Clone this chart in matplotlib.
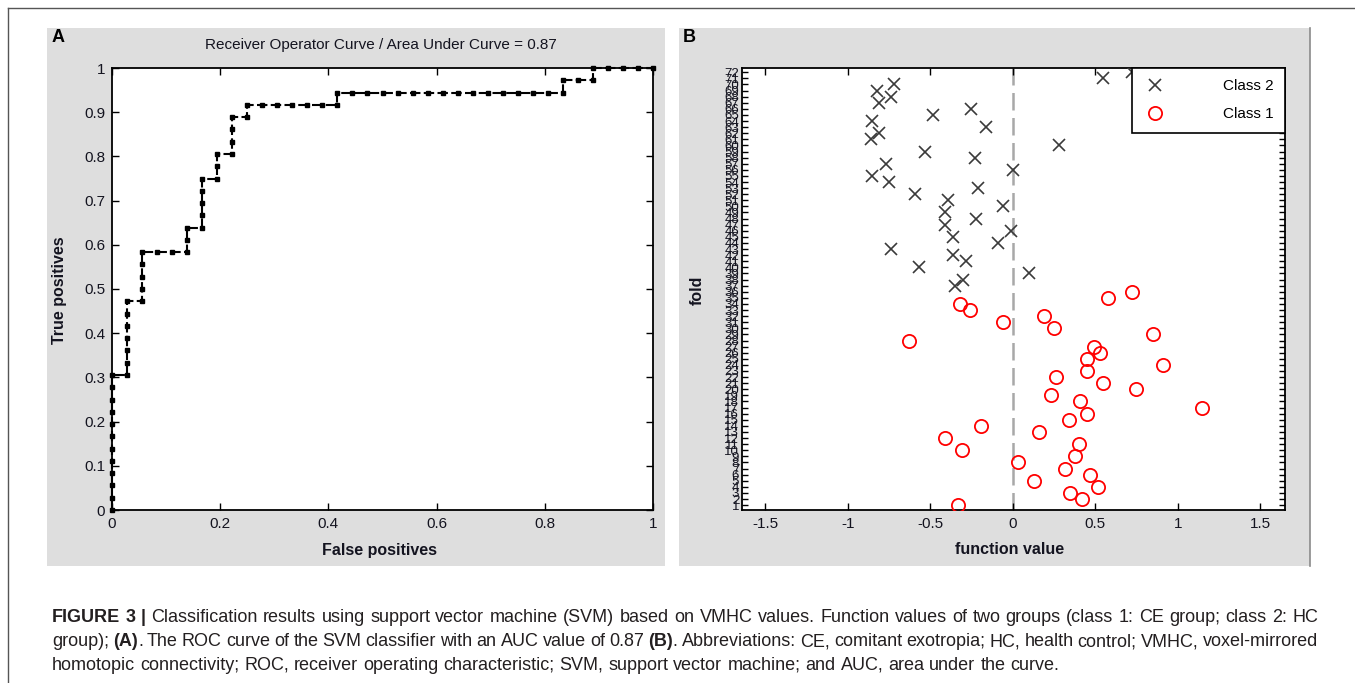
import numpy as np
import matplotlib
matplotlib.use("Agg")
import matplotlib.pyplot as plt
from matplotlib.transforms import IdentityTransform
from matplotlib.patches import Rectangle
from matplotlib.lines import Line2D

plt.rcParams['font.family'] = ['Liberation Sans', 'DejaVu Sans']

# ---------------- data ----------------
n_pos = 36
n_neg = 36
# ROC curve points (counts of false / true positives)
roc_fp = [0, 0, 0, 0, 0, 0, 0, 0, 0, 0, 0, 0,
          1, 1, 1, 1, 1, 1, 1,
          2, 2, 2, 2, 2,
          3, 4,
          5, 5, 5,
          6, 6, 6, 6, 6,
          7, 7, 7,
          8, 8, 8, 8,
          9, 9,
          10, 11, 12, 13, 14, 15, 15,
          16, 17, 18, 19, 20, 21, 22, 23, 24, 25, 26, 27, 28, 29, 30, 30,
          31, 32, 32,
          33, 34, 35, 36]
roc_tp = [0, 1, 2, 3, 4, 5, 6, 7, 8, 9, 10, 11,
          11, 12, 13, 14, 15, 16, 17,
          17, 18, 19, 20, 21,
          21, 21,
          21, 22, 23,
          23, 24, 25, 26, 27,
          27, 28, 29,
          29, 30, 31, 32,
          32, 33,
          33, 33, 33, 33, 33, 33, 34,
          34, 34, 34, 34, 34, 34, 34, 34, 34, 34, 34, 34, 34, 34, 34, 35,
          35, 35, 36,
          36, 36, 36, 36]
auc_value = 0.87

class1_fold = list(range(1, 37))
class1_value = [-0.33, 0.42, 0.35, 0.52, 0.13, 0.47, 0.32, 0.03, 0.38, -0.31,
                0.40, -0.41, 0.16, -0.19, 0.34, 0.45, 1.15, 0.41, 0.23, 0.75,
                0.55, 0.26, 0.45, 0.91, 0.45, 0.53, 0.49, -0.63, 0.85, 0.25,
                -0.06, 0.19, -0.26, -0.32, 0.58, 0.72]
class2_fold = list(range(37, 73))
class2_value = [-0.35, -0.30, 0.10, -0.57, -0.28, -0.36, -0.74, -0.09, -0.36, -0.01,
                -0.41, -0.22, -0.41, -0.06, -0.39, -0.59, -0.21, -0.75, -0.85, 0.00,
                -0.77, -0.23, -0.53, 0.28, -0.86, -0.81, -0.16, -0.85, -0.48, -0.25,
                -0.81, -0.74, -0.82, -0.72, 0.55, 0.72]

roc_xticks = [0, 0.2, 0.4, 0.6, 0.8, 1]
roc_xticklabels = ['0', '0.2', '0.4', '0.6', '0.8', '1']
roc_yticks = [0, 0.1, 0.2, 0.3, 0.4, 0.5, 0.6, 0.7, 0.8, 0.9, 1]
roc_yticklabels = ['0', '0.1', '0.2', '0.3', '0.4', '0.5', '0.6', '0.7', '0.8', '0.9', '1']
fv_xticks = [-1.5, -1, -0.5, 0, 0.5, 1, 1.5]
fv_xticklabels = ['-1.5', '-1', '-0.5', '0', '0.5', '1', '1.5']
fold_ticks = list(range(1, 73))

caption_lines = [
    "*FIGURE 3 |* Classification results using support vector machine (SVM) based on VMHC values. Function values of two groups (class 1: CE group; class 2: HC",
    "group); *(A)*. The ROC curve of the SVM classifier with an AUC value of 0.87 *(B)*. Abbreviations: CE, comitant exotropia; HC, health control; VMHC, voxel-mirrored",
    "homotopic connectivity; ROC, receiver operating characteristic; SVM, support vector machine; and AUC, area under the curve.",
]

# ---------------- figure ----------------
W, H = 1355, 683
fig = plt.figure(figsize=(W / 100, H / 100), dpi=100)


def fx(x):
    return x / W


def fy(y):
    return 1 - y / H


GRAY = '#dedede'
# panel backgrounds
fig.patches.append(Rectangle((fx(47), fy(566)), fx(665) - fx(47), fy(28) - fy(566),
                             transform=fig.transFigure, facecolor=GRAY, edgecolor='none', zorder=-10))
fig.patches.append(Rectangle((fx(679), fy(566)), fx(1310) - fx(679), fy(28) - fy(566),
                             transform=fig.transFigure, facecolor=GRAY, edgecolor='none', zorder=-10))
fig.add_artist(Line2D([fx(1310), fx(1310)], [fy(28), fy(566)], color='#8a8a8a', lw=1.2,
                      transform=fig.transFigure, zorder=-5))
# outer frame
fig.add_artist(Line2D([fx(8), fx(8)], [fy(8), 0], color='#555555', lw=1.0, transform=fig.transFigure))
fig.add_artist(Line2D([fx(8), 1], [fy(8), fy(8)], color='#555555', lw=1.0, transform=fig.transFigure))

TXT = '#141420'

# ---------------- panel A ----------------
ax1 = fig.add_axes([fx(112), fy(510), (653 - 112) / W, (510 - 68) / H], zorder=2)
ax1.set_facecolor('white')
ax1.plot(np.array(roc_fp) / n_neg, np.array(roc_tp) / n_pos, color='k', lw=1.5,
         ls=(0, (5, 1.6)), marker='s', ms=3.4, mfc='k', mec='k', clip_on=False, zorder=3)
ax1.set_xlim(0, 1)
ax1.set_ylim(0, 1)
ax1.set_xticks(roc_xticks)
ax1.set_xticklabels(roc_xticklabels)
ax1.set_yticks(roc_yticks)
ax1.set_yticklabels(roc_yticklabels)
ax1.tick_params(direction='in', length=5, width=1, top=True, right=True, labelsize=11,
                labelcolor=TXT, pad=5)
for s in ax1.spines.values():
    s.set_linewidth(1.3)
fig.text(fx(381), fy(45), 'Receiver Operator Curve / Area Under Curve = %.2f' % auc_value,
         fontsize=11, ha='center', va='center', color=TXT)
fig.text(fx(380), fy(550), 'False positives', fontsize=11.5, fontweight='bold',
         ha='center', va='center', color=TXT)
fig.text(fx(60), fy(290), 'True positives', fontsize=11.5, fontweight='bold', rotation=90,
         ha='center', va='center', color=TXT)
fig.text(fx(52), fy(38), 'A', fontsize=13, fontweight='bold', ha='left', va='center')

# ---------------- panel B ----------------
ax2 = fig.add_axes([fx(742), fy(510), (1285 - 742) / W, (510 - 68) / H], zorder=2)
ax2.set_facecolor('white')
ax2.axvline(0, color='#a8a8a8', lw=1.8, dashes=(7, 3), zorder=1)
ax2.plot(class2_value, class2_fold, ls='none', marker='x', ms=8, mew=1.2,
         color='#3a3a3a', label='Class 2', zorder=3)
ax2.plot(class1_value, class1_fold, ls='none', marker='o', ms=9.5, mfc='none',
         mec='#ff0000', mew=1.3, label='Class 1', zorder=3)
ax2.set_xlim(-1.64, 1.65)
ax2.set_ylim(0.2, 72.7)
ax2.set_xticks(fv_xticks)
ax2.set_xticklabels(fv_xticklabels)
ax2.set_yticks(fold_ticks)
ax2.set_yticklabels([str(v) for v in fold_ticks])
ax2.tick_params(axis='x', direction='in', length=5, width=1, top=True, labelsize=11,
                labelcolor=TXT, pad=5)
ax2.tick_params(axis='y', direction='in', length=4, width=1, right=True, labelsize=9.5,
                labelcolor=TXT, pad=2)
for s in ax2.spines.values():
    s.set_linewidth(1.3)
leg = ax2.legend(loc='upper right', borderaxespad=0, fancybox=False, edgecolor='k',
                 framealpha=1, fontsize=11, handlelength=1.5, handletextpad=3.7,
                 borderpad=0.75, labelspacing=0.9)
leg.get_frame().set_linewidth(1.2)
fig.text(fx(697), fy(290), 'fold', fontsize=11.5, fontweight='bold', rotation=90,
         ha='center', va='center', color=TXT)
fig.text(fx(1010), fy(550), 'function value', fontsize=11.5, fontweight='bold',
         ha='center', va='center', color=TXT)
fig.text(fx(683), fy(38), 'B', fontsize=13, fontweight='bold', ha='left', va='center')

# ---------------- caption ----------------
renderer = fig.canvas.get_renderer()
CAP_SIZE = 13
CAP_COLOR = '#231f20'


def parse(line):
    words, cur, buf, bold = [], [], '', False
    for ch in line:
        if ch == '*':
            if buf:
                cur.append((buf, bold))
                buf = ''
            bold = not bold
        elif ch == ' ':
            if buf:
                cur.append((buf, bold))
                buf = ''
            if cur:
                words.append(cur)
                cur = []
        else:
            buf += ch
    if buf:
        cur.append((buf, bold))
    if cur:
        words.append(cur)
    return words


def width_of(s, bold):
    t = fig.text(0, 0, s, fontsize=CAP_SIZE, fontweight='bold' if bold else 'normal',
                 transform=IdentityTransform())
    w = t.get_window_extent(renderer).width
    t.remove()
    return w


natural_space = width_of('a a', False) - width_of('aa', False)
x0, x1 = 52, 1318
ys = [618, 642, 665]
parsed = [parse(l) for l in caption_lines]
for i, words in enumerate(parsed):
    widths = [[width_of(s, b) for s, b in w] for w in words]
    total = sum(sum(w) for w in widths)
    if i < 2:
        sp = (x1 - x0 - total) / (len(words) - 1)
    else:
        sp = natural_space
    x = x0
    for w, ws in zip(words, widths):
        for (s, b), wd in zip(w, ws):
            fig.text(x, H - ys[i], s, fontsize=CAP_SIZE, fontweight='bold' if b else 'normal',
                     transform=IdentityTransform(), ha='left', va='center', color=CAP_COLOR)
            x += wd
        x += sp

fig.savefig('out.png', dpi=100)
